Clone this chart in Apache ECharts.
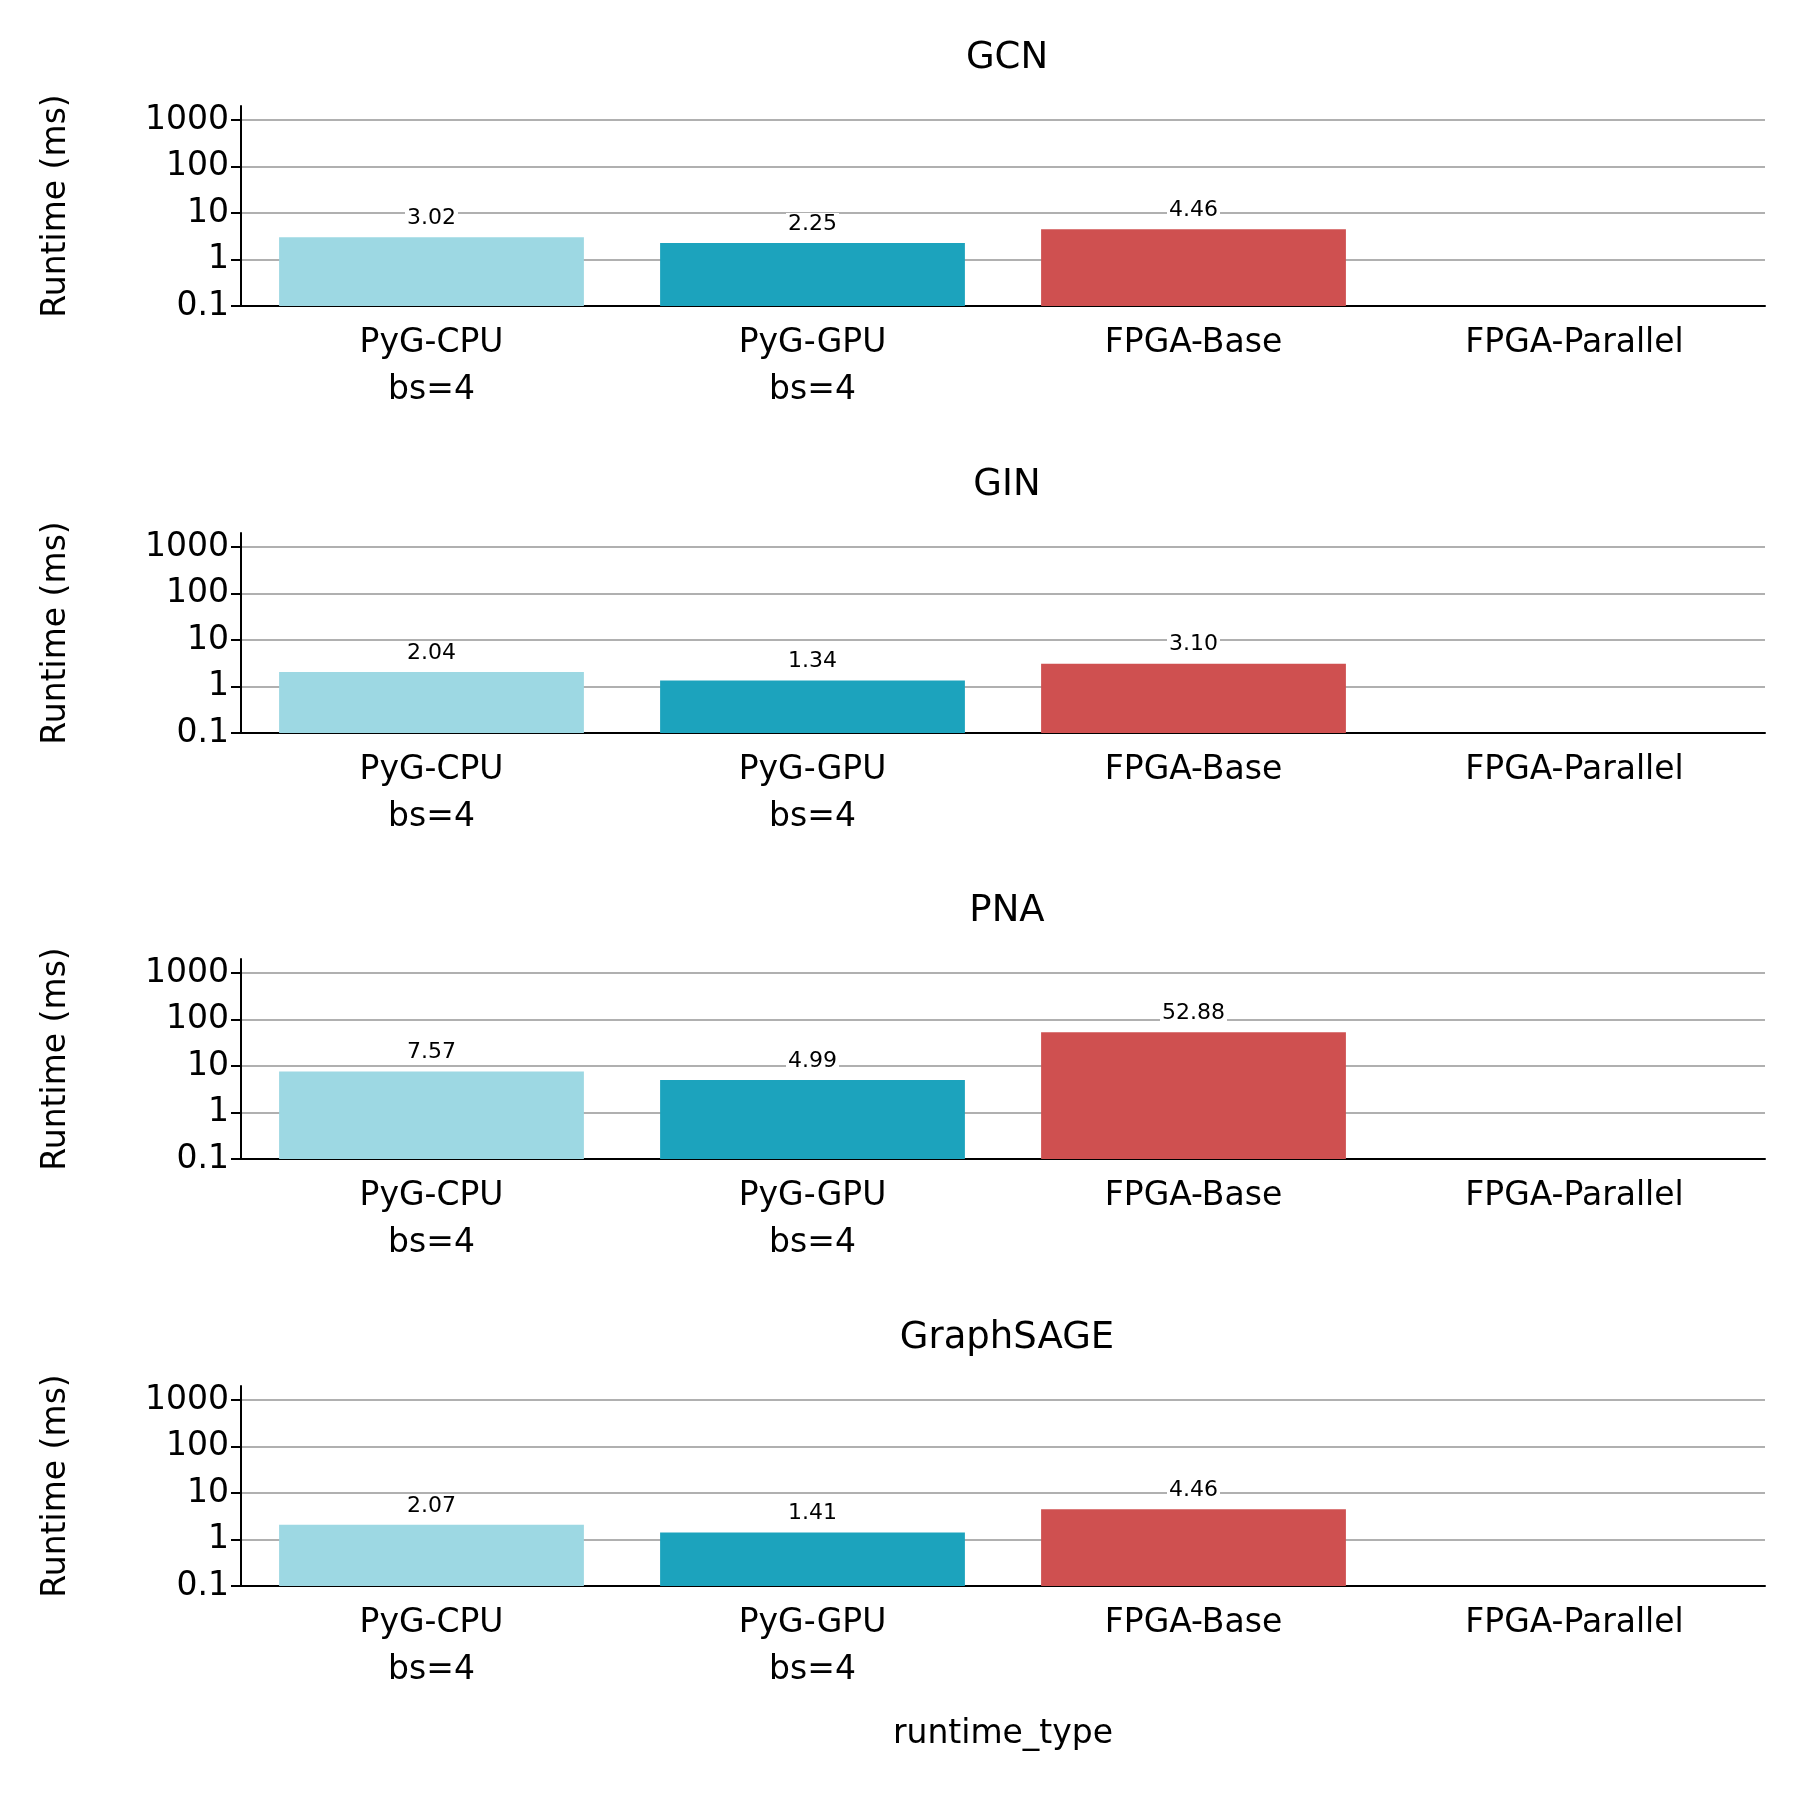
<!DOCTYPE html>
<html><head><meta charset="utf-8">
<script src="https://cdn.jsdelivr.net/npm/echarts@6/dist/echarts.min.js"></script>
<style>html,body{margin:0;padding:0;background:#fff}#c{width:1800px;height:1800px}</style>
</head><body><div id="c"></div>
<script>
const categories = ['PyG-CPU\nbs=4', 'PyG-GPU\nbs=4', 'FPGA-Base', 'FPGA-Parallel'];
const models = ['GCN', 'GIN', 'PNA', 'GraphSAGE'];
const gcnValues = [3.02, 2.25, 4.46, null];
const ginValues = [2.04, 1.34, 3.10, null];
const pnaValues = [7.57, 4.99, 52.88, null];
const sageValues = [2.07, 1.41, 4.46, null];
const allValues = [gcnValues, ginValues, pnaValues, sageValues];
const yTicks = ['0.1', '1', '10', '100', '1000'];
const colors = ['#9dd8e3', '#1ca3bd', '#cf5050', '#808080'];

const font = 'DejaVu Sans';
const tops = [120, 547, 973, 1400];
const H = 186;
const chart = echarts.init(document.getElementById('c'));
const grids = [], xAxes = [], yAxes = [], series = [], titles = [];
tops.forEach((t, i) => {
  grids.push({left: 241, width: 1524, top: t - 14, height: H + 14});
  titles.push({text: models[i], left: 1002, textAlign: 'center', top: t - 85,
    textStyle: {fontFamily: font, fontSize: 37, fontWeight: 'normal', color: '#000'}});
  xAxes.push({type: 'category', gridIndex: i, data: categories,
    axisLine: {lineStyle: {color: '#000', width: 2}},
    axisTick: {alignWithLabel: true, length: 10, lineStyle: {color: '#000', width: 2}},
    axisLabel: {fontFamily: font, fontSize: 33, color: '#000', lineHeight: 47, margin: 14},
    name: i === 3 ? 'runtime_type' : '', nameLocation: 'middle', nameGap: 132,
    nameTextStyle: {fontFamily: font, fontSize: 33, color: '#000'}});
  yAxes.push({type: 'value', gridIndex: i, min: 0, max: 4.3, interval: 1,
    axisLine: {show: true, lineStyle: {color: '#000', width: 2}},
    axisTick: {show: true, length: 10, lineStyle: {color: '#000', width: 2}},
    splitLine: {show: true, showMaxLine: false, lineStyle: {color: '#b0b0b0', width: 2}},
    axisLabel: {fontFamily: font, fontSize: 33, color: '#000', margin: 12, showMaxLabel: false,
      formatter: v => Number.isInteger(v) ? yTicks[v] : ''},
    name: 'Runtime (ms)', nameLocation: 'middle', nameGap: 168,
    nameTextStyle: {fontFamily: font, fontSize: 33, color: '#000'}});
  series.push({type: 'bar', xAxisIndex: i, yAxisIndex: i, barCategoryGap: '20%',
    data: allValues[i].map((v, j) => v == null ? null : {value: Math.log10(v) + 1, raw: v, itemStyle: {color: colors[j]}}),
    label: {show: true, position: 'top', distance: 8, fontFamily: font, fontSize: 22, color: '#000',
      backgroundColor: '#fff', padding: [0, 2],
      formatter: p => p.data.raw.toFixed(2)}});
});
chart.setOption({animation: false, title: titles, grid: grids, xAxis: xAxes, yAxis: yAxes, series: series});
</script></body></html>
